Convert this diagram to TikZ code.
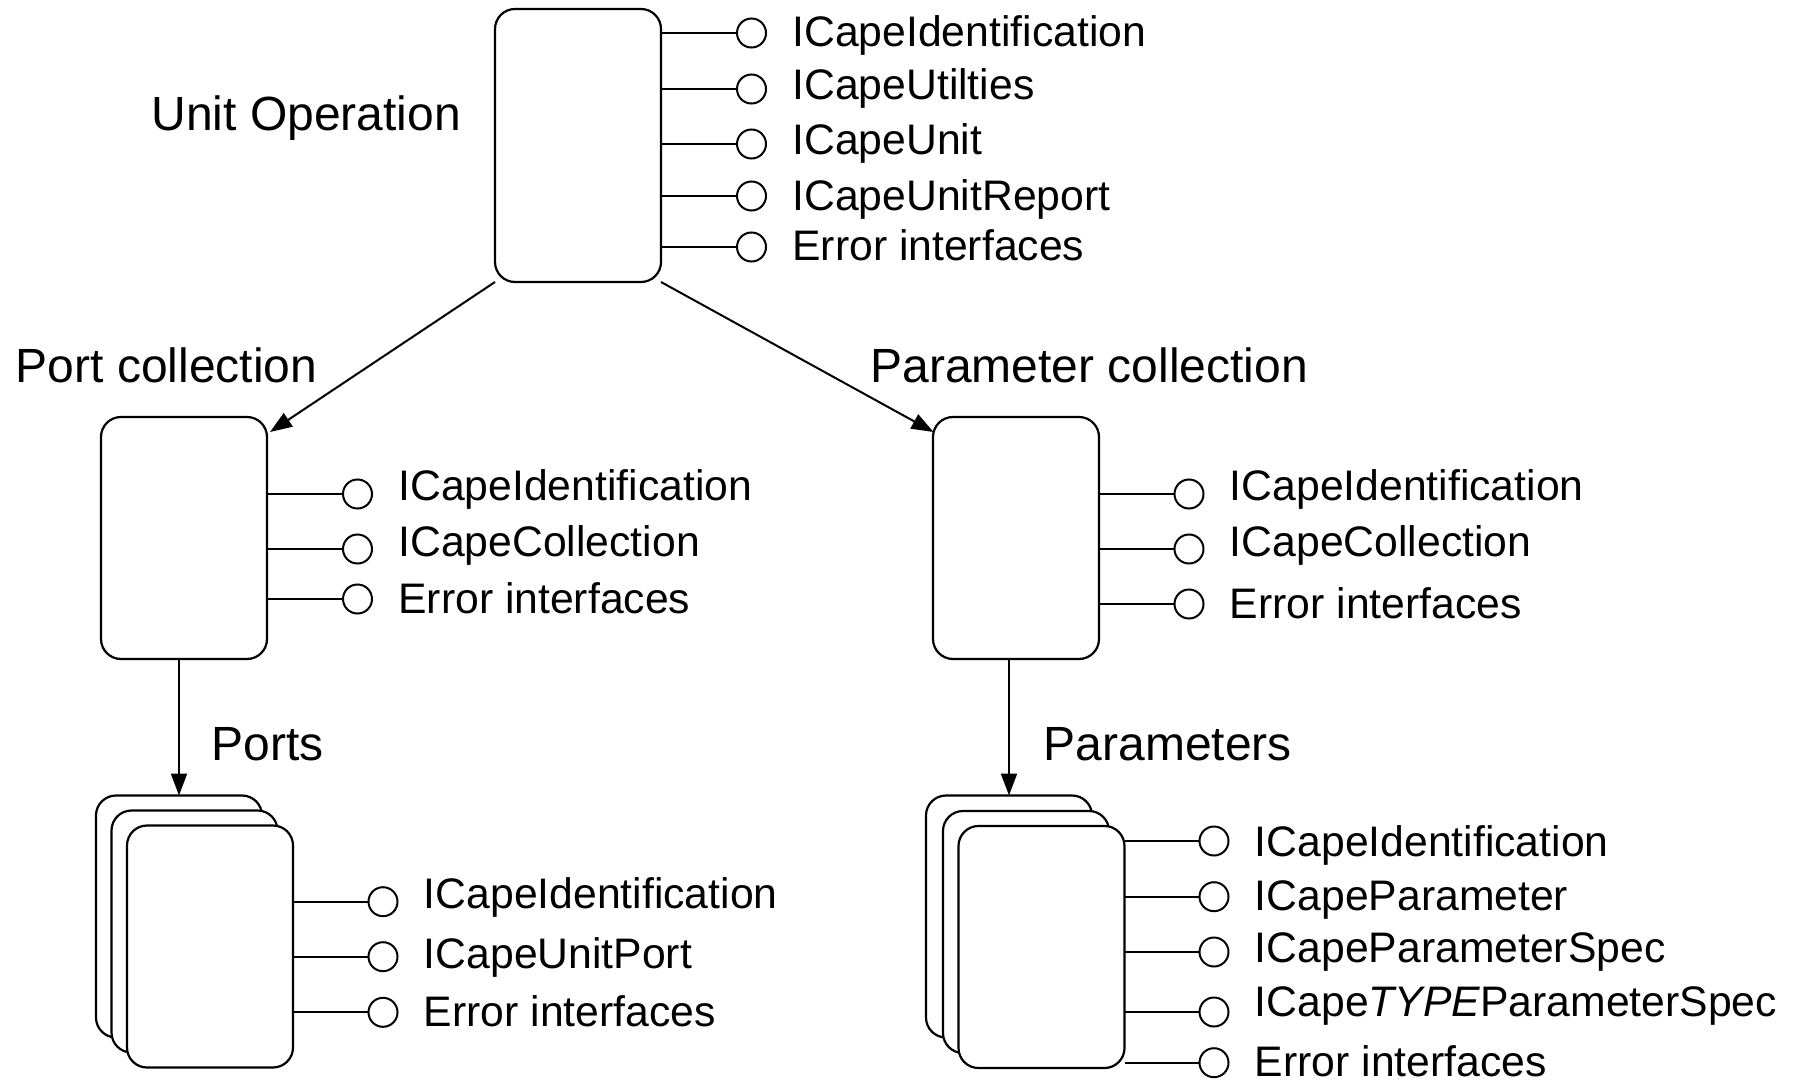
\documentclass[tikz,border=0pt]{standalone}
\usepackage{fontspec}
\setmainfont{Liberation Sans}
\usetikzlibrary{arrows.meta,calc}

% one exposed interface: socket circle, its stub wire from the box, and its name
% #1 box, #2 node name, #3 socket x, #4 wire y, #5 label baseline y, #6 label
\newcommand{\iface}[6]{%
  \node[socket] (#2c) at (#3,#4) {};
  \draw[wire] (#1.east |- #2c) -- (#2c.west);
  \pgfmathsetmacro{\labx}{#3+40.5}%
  \node[lbl] (#2t) at (\labx,#5) {#6};
}

\begin{document}
\begin{tikzpicture}[x=0.5pt,y=-0.5pt,
  box/.style={draw, line width=1.1pt, rounded corners=10pt, fill=white,
    minimum width=83pt, minimum height=121pt, inner sep=0pt, outer sep=0pt},
  socket/.style={draw, circle, line width=1pt, minimum size=14.5pt,
    inner sep=0pt, outer sep=0pt, fill=white},
  wire/.style={line width=1pt},
  arr/.style={line width=1pt, -{Triangle[length=11pt,width=8pt]}},
  lbl/.style={anchor=base west, inner sep=0pt,
    font=\fontsize{21.35}{25}\selectfont},
  head/.style={anchor=base west, inner sep=0pt,
    font=\fontsize{24}{28}\selectfont}]

\useasboundingbox (0,0) rectangle (1800,1081);

% component boxes
\node[box, minimum height=136.5pt] (uo) at (578,145.5) {};
\node[box] (pc)  at (184,538) {};
\node[box] (prc) at (1016,538) {};
\node[box] (portsA) at (179,916.5) {};
\node[box] (portsB) at (194.5,931.5) {};
\node[box] (portsC) at (210,946.5) {};
\node[box] (parsA) at (1009,916.5) {};
\node[box] (parsB) at (1026,932) {};
\node[box] (parsC) at (1041.5,947) {};

% headings
\node[head] (huo)  at (151,130.7) {Unit Operation};
\node[head] (hpc)  at (15.5,382.7) {Port collection};
\node[head] (hprc) at (870,382.7) {Parameter collection};
\node[head] (hp)   at (211.5,760) {Ports};
\node[head] (hpar) at (1043.5,760) {Parameters};

% containment arrows
\draw[arr] (uo.south west) -- ([shift={(3,15)}]pc.north east);
\draw[arr] (uo.south east) -- ([shift={(0.5,15)}]prc.north west);
\draw[arr] (pc.south -| portsA.north) -- (portsA.north);
\draw[arr] (prc.south -| parsA.north) -- (parsA.north);

% unit operation interfaces
\iface{uo}{u1}{751.5}{33}{46.7}{ICapeIdentification}
\iface{uo}{u2}{751.5}{89}{100}{ICapeUtilties}
\iface{uo}{u3}{751.5}{144}{155}{ICapeUnit}
\iface{uo}{u4}{751.5}{196}{210.7}{ICapeUnitReport}
\iface{uo}{u5}{751.5}{247}{260}{Error interfaces}

% port collection interfaces
\iface{pc}{pc1}{357.5}{494}{500}{ICapeIdentification}
\iface{pc}{pc2}{357.5}{549}{556.7}{ICapeCollection}
\iface{pc}{pc3}{357.5}{599}{613.3}{Error interfaces}

% parameter collection interfaces
\iface{prc}{prc1}{1189}{494}{500}{ICapeIdentification}
\iface{prc}{prc2}{1189}{549}{556.7}{ICapeCollection}
\iface{prc}{prc3}{1189}{604}{618.3}{Error interfaces}

% port interfaces
\iface{portsC}{p1}{383}{901.7}{908.3}{ICapeIdentification}
\iface{portsC}{p2}{383}{956.7}{968.3}{ICapeUnitPort}
\iface{portsC}{p3}{383}{1012.3}{1026.7}{Error interfaces}

% parameter interfaces
\iface{parsC}{q1}{1214}{841}{856.7}{ICapeIdentification}
\iface{parsC}{q2}{1214}{896.7}{910}{ICapeParameter}
\iface{parsC}{q3}{1214}{952}{962.7}{ICapeParameterSpec}
\iface{parsC}{q4}{1214}{1012}{1016.7}{ICape{\itshape TYPE}ParameterSpec}
\iface{parsC}{q5}{1214}{1062.7}{1076.7}{Error interfaces}

\end{tikzpicture}
\end{document}
